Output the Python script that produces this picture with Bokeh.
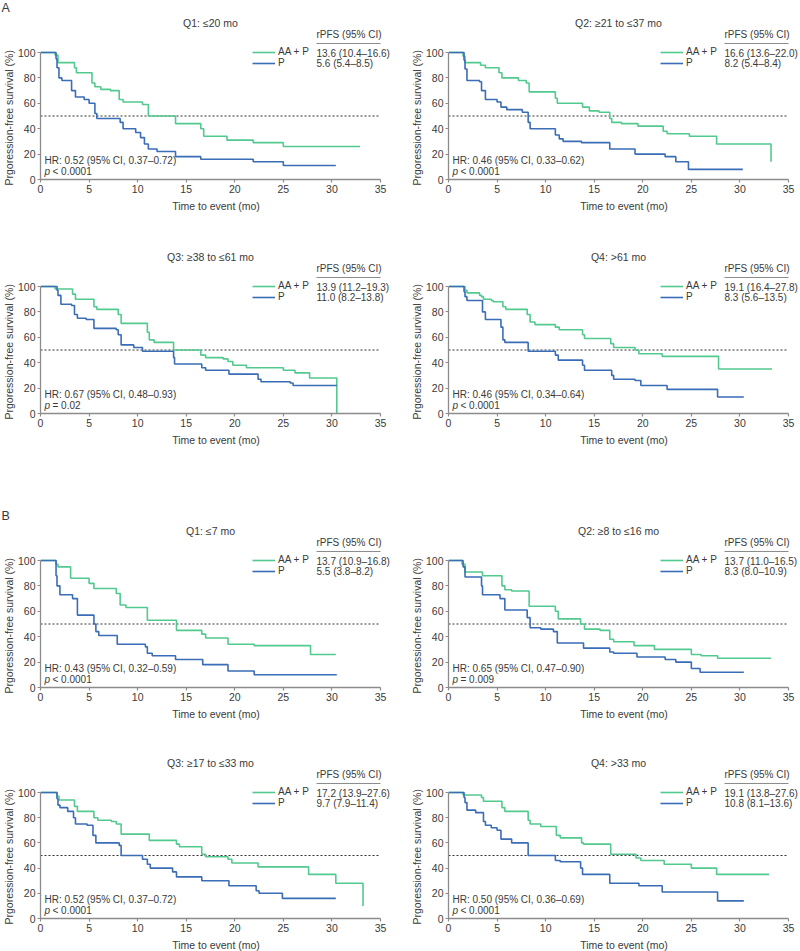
from bokeh.plotting import figure
from bokeh.models import Range1d, FixedTicker, Label, Legend, LegendItem, BoxAnnotation, Title
from bokeh.layouts import column, row
from bokeh.embed import file_html
from bokeh.resources import INLINE

FONT = "Liberation Sans"
GREEN = "#52c98e"
BLUE = "#3a6db5"
AXIS = "#8c8c8c"
TXT = "#3a3a3a"

# ---------------- data ----------------
titles = ["Q1: \u226420 mo", "Q2: \u226521 to \u226437 mo", "Q3: \u226538 to \u226461 mo", "Q4: >61 mo",
          "Q1: \u22647 mo", "Q2: \u22658 to \u226416 mo", "Q3: \u226517 to \u226433 mo", "Q4: >33 mo"]
rpfs_aap = ["13.6 (10.4\u201316.6)", "16.6 (13.6\u201322.0)", "13.9 (11.2\u201319.3)", "19.1 (16.4\u201327.8)",
            "13.7 (10.9\u201316.8)", "13.7 (11.0\u201316.5)", "17.2 (13.9\u201327.6)", "19.1 (13.8\u201327.6)"]
rpfs_p = ["5.6 (5.4\u20138.5)", "8.2 (5.4\u20138.4)", "11.0 (8.2\u201313.8)", "8.3 (5.6\u201313.5)",
          "5.5 (3.8\u20138.2)", "8.3 (8.0\u201310.9)", "9.7 (7.9\u201311.4)", "10.8 (8.1\u201313.6)"]
hr_text = ["HR: 0.52 (95% CI, 0.37\u20130.72)", "HR: 0.46 (95% CI, 0.33\u20130.62)",
           "HR: 0.67 (95% CI, 0.48\u20130.93)", "HR: 0.46 (95% CI, 0.34\u20130.64)",
           "HR: 0.43 (95% CI, 0.32\u20130.59)", "HR: 0.65 (95% CI, 0.47\u20130.90)",
           "HR: 0.52 (95% CI, 0.37\u20130.72)", "HR: 0.50 (95% CI, 0.36\u20130.69)"]
p_text = ["< 0.0001", "< 0.0001", "= 0.02", "< 0.0001", "< 0.0001", "= 0.009", "< 0.0001", "< 0.0001"]
section_letters = ["A", "B"]
x_ticks = [0, 5, 10, 15, 20, 25, 30, 35]
y_ticks = [0, 20, 40, 60, 80, 100]
median_level = 50

# A - Q1
a1_aap_t = [0, 1.5, 1.8, 3.5, 3.7, 5.3, 5.6, 6.2, 7.2, 8.1, 8.5, 10.5, 11.1, 13.9, 16.5, 16.8, 19.2, 21.9, 25.0, 32.9]
a1_aap_s = [100, 98, 92, 88, 84, 76, 73, 71, 70, 63, 61, 59, 50, 44, 40, 34, 31, 29, 26, 26]
a1_p_t = [0, 1.6, 1.7, 1.9, 2.2, 3.2, 3.6, 4.5, 5.0, 5.6, 5.8, 8.2, 8.5, 9.8, 10.3, 10.7, 11.1, 12.0, 13.9, 16.5, 21.9, 25.0, 30.4]
a1_p_s = [100, 95, 88, 80, 78, 70, 65, 63, 60, 52, 48, 45, 40, 37, 33, 28, 24, 22, 18, 16, 14, 11, 11]
# A - Q2
a2_aap_t = [0, 1.5, 1.7, 3.3, 3.8, 5.2, 5.5, 7.2, 8.0, 8.3, 11.0, 11.2, 13.8, 14.5, 15.5, 16.6, 16.8, 17.8, 19.5, 22.1, 22.5, 24.8, 27.6, 33.2, 33.2]
a2_aap_s = [100, 97, 92, 90, 88, 84, 80, 78, 76, 69, 64, 60, 57, 54, 53, 48, 45, 44, 42, 38, 36, 34, 28, 28, 14]
a2_p_t = [0, 1.6, 1.7, 1.9, 3.2, 3.4, 3.8, 5.0, 5.4, 6.0, 7.6, 8.2, 8.4, 11.0, 11.4, 11.8, 13.7, 16.6, 19.2, 22.3, 23.4, 24.7, 30.3]
a2_p_s = [100, 94, 87, 78, 77, 70, 63, 61, 57, 55, 53, 45, 40, 35, 32, 30, 29, 24, 20, 18, 14, 8, 8]
# A - Q3
a3_aap_t = [0, 1.5, 3.3, 3.6, 5.5, 5.8, 8.0, 8.3, 11.0, 11.2, 11.7, 13.7, 16.5, 17.0, 18.8, 19.3, 19.8, 21.2, 25.0, 26.2, 27.7, 30.5, 30.5]
a3_aap_s = [100, 98, 94, 90, 84, 82, 78, 71, 64, 58, 56, 50, 46, 44, 43, 41, 38, 36, 34, 32, 28, 28, 0]
a3_p_t = [0, 1.7, 1.8, 2.1, 3.2, 3.5, 3.8, 4.7, 5.5, 7.8, 8.0, 8.3, 9.6, 10.5, 13.7, 13.8, 16.6, 17.0, 19.4, 22.4, 22.7, 25.7, 26.0, 30.5]
a3_p_s = [100, 97, 93, 86, 85, 78, 75, 74, 67, 66, 62, 54, 52, 49, 44, 39, 36, 34, 31, 27, 25, 24, 22, 22]
# A - Q4
a4_aap_t = [0, 1.7, 1.9, 3.2, 3.4, 3.6, 4.4, 4.6, 5.6, 5.9, 8.1, 8.4, 8.9, 11.0, 11.4, 13.8, 14.0, 16.7, 17.0, 19.2, 19.6, 22.0, 27.8, 33.3]
a4_aap_s = [100, 97, 95, 93, 92, 90, 89, 88, 84, 82, 78, 72, 70, 68, 66, 62, 59, 55, 52, 50, 47, 45, 35, 35]
a4_p_t = [0, 1.6, 1.7, 1.9, 3.5, 3.8, 5.4, 5.6, 5.8, 8.2, 11.0, 11.3, 13.8, 14.0, 16.8, 17.0, 19.2, 19.8, 22.5, 27.7, 30.4]
a4_p_s = [100, 96, 92, 89, 80, 74, 68, 58, 56, 49, 46, 42, 38, 34, 30, 27, 26, 22, 19, 13, 13]
# B - Q1
b1_aap_t = [0, 1.6, 1.8, 3.1, 5.0, 5.5, 7.8, 8.2, 8.8, 11.0, 14.0, 16.6, 17.0, 19.3, 22.0, 27.8, 30.4]
b1_aap_s = [100, 97, 95, 86, 82, 78, 74, 65, 63, 53, 45, 42, 39, 34, 33, 26, 26]
b1_p_t = [0, 1.6, 1.7, 2.0, 3.3, 3.8, 5.5, 5.7, 6.0, 7.9, 10.8, 11.0, 11.5, 13.9, 16.7, 19.3, 22.0, 30.5]
b1_p_s = [100, 88, 80, 73, 70, 57, 50, 44, 41, 34, 32, 27, 25, 22, 18, 13, 10, 10]
# B - Q2
b2_aap_t = [0, 1.4, 1.7, 3.5, 5.5, 5.8, 6.5, 8.3, 11.0, 11.3, 13.6, 14.0, 15.6, 16.6, 17.0, 19.1, 21.2, 25.0, 26.0, 27.7, 33.2]
b2_aap_s = [100, 97, 91, 88, 80, 77, 76, 64, 60, 54, 50, 46, 45, 38, 36, 33, 30, 26, 25, 23, 23]
b2_p_t = [0, 1.5, 1.7, 3.4, 3.5, 5.3, 5.8, 8.1, 8.4, 9.5, 10.8, 11.2, 13.9, 16.6, 17.0, 19.4, 22.3, 23.4, 25.0, 25.9, 30.4]
b2_p_s = [100, 95, 87, 80, 73, 70, 61, 55, 47, 46, 44, 35, 31, 28, 27, 24, 22, 20, 15, 12, 12]
# B - Q3
b3_aap_t = [0, 1.7, 1.9, 3.5, 3.8, 5.5, 5.9, 7.3, 7.8, 8.3, 11.2, 14.0, 14.3, 16.6, 17.0, 19.3, 19.7, 22.4, 27.6, 30.4, 33.2, 33.2]
b3_aap_s = [100, 97, 94, 89, 85, 80, 78, 77, 75, 67, 62, 59, 57, 51, 49, 47, 44, 41, 35, 28, 28, 10]
b3_p_t = [0, 1.7, 1.8, 2.0, 2.8, 3.4, 3.6, 4.8, 5.4, 5.7, 8.1, 8.3, 10.5, 11.0, 11.3, 13.6, 14.0, 16.6, 19.4, 22.2, 22.5, 24.9, 30.4]
b3_p_s = [100, 95, 90, 88, 85, 80, 75, 74, 66, 60, 58, 50, 47, 43, 40, 37, 33, 30, 26, 22, 20, 16, 16]
# B - Q4
b4_aap_t = [0, 1.5, 3.4, 3.6, 5.5, 5.8, 8.2, 8.4, 9.5, 11.1, 11.5, 13.7, 13.9, 16.7, 19.3, 19.8, 22.2, 25.0, 27.6, 33.0]
b4_aap_s = [100, 98, 96, 93, 88, 85, 78, 75, 73, 66, 64, 60, 59, 51, 48, 46, 43, 40, 35, 35]
b4_p_t = [0, 1.6, 1.7, 1.9, 2.8, 3.6, 3.8, 4.4, 5.0, 5.4, 6.5, 8.2, 11.0, 11.5, 13.6, 13.8, 16.6, 19.6, 22.0, 27.7, 30.4]
b4_p_s = [100, 96, 92, 86, 84, 77, 74, 72, 70, 63, 60, 50, 46, 45, 40, 35, 28, 26, 21, 14, 14]

curves = [
    (a1_aap_t, a1_aap_s, a1_p_t, a1_p_s), (a2_aap_t, a2_aap_s, a2_p_t, a2_p_s),
    (a3_aap_t, a3_aap_s, a3_p_t, a3_p_s), (a4_aap_t, a4_aap_s, a4_p_t, a4_p_s),
    (b1_aap_t, b1_aap_s, b1_p_t, b1_p_s), (b2_aap_t, b2_aap_s, b2_p_t, b2_p_s),
    (b3_aap_t, b3_aap_s, b3_p_t, b3_p_s), (b4_aap_t, b4_aap_s, b4_p_t, b4_p_s),
]

# ---------------- layout (pixels) ----------------
PW = 340          # width of the 0..35 plotting area
XR = 11           # extra frame width right of 35 (legend text)
EX = 36           # extra frame height above 100 (title / legend header)
# per row: (top border, plot height for 0..100, bottom border)
rows_geo = [(15, 127, 71), (0, 127, 95), (15, 127, 69), (0, 126, 35)]
cols_geo = [(40, 9), (48, 1)]  # (left border, right border)


def lab(p, x, y, text, size="10px", align="left", style="normal", color=TXT):
    p.add_layout(Label(x=x, y=y, x_units="screen", y_units="screen", text=text,
                       text_font=FONT, text_font_size=size, text_color=color,
                       text_align=align, text_baseline="middle", text_font_style=style))


def make_panel(i):
    r, c = divmod(i, 2)
    top, PH, bottom = rows_geo[r]
    left, right = cols_geo[c]
    FH = PH + EX
    x_end = x_ticks[-1] * (PW + XR) / PW
    y_end = y_ticks[-1] * FH / PH
    p = figure(frame_width=PW + XR, frame_height=FH, min_border_left=left, min_border_right=right,
               min_border_top=top, min_border_bottom=bottom,
               x_range=Range1d(x_ticks[0], x_end), y_range=Range1d(y_ticks[0], y_end),
               output_backend="svg", toolbar_location=None, tools="")
    p.outline_line_color = None
    p.xgrid.visible = False
    p.ygrid.visible = False
    for ax in (p.xaxis, p.yaxis):
        ax.axis_line_color = AXIS
        ax.axis_line_width = 1.3
        ax.major_tick_line_color = AXIS
        ax.major_tick_line_width = 1.2
        ax.major_tick_in = 0
        ax.major_tick_out = 3
        ax.minor_tick_line_color = None
        ax.major_label_text_font = FONT
        ax.major_label_text_font_size = "10.5px"
        ax.major_label_text_color = TXT
        ax.major_label_standoff = 2
    p.xaxis.ticker = FixedTicker(ticks=x_ticks)
    p.yaxis.ticker = FixedTicker(ticks=y_ticks)
    p.xaxis.bounds = (x_ticks[0], x_ticks[-1])
    p.yaxis.bounds = (y_ticks[0], y_ticks[-1])
    p.xaxis.axis_label = "Time to event (mo)"
    p.xaxis.axis_label_text_font = FONT
    p.xaxis.axis_label_text_font_style = "normal"
    p.xaxis.axis_label_text_color = TXT
    p.xaxis.axis_label_text_font_size = "10.5px"
    p.xaxis.axis_label_standoff = 4

    # y axis title, centred on the 0..100 span
    p.add_layout(Title(text="Prgoression-free survival (%)", align="left", offset=-6, standoff=0,
                       text_font=FONT, text_font_size="10.5px", text_font_style="normal",
                       text_color=TXT), "left")

    # section letter (A / B)
    if c == 0 and r in (0, 2):
        p.title.text = section_letters[r // 2]
        p.title.align = "left"
        p.title.vertical_align = "top"
        p.title.offset = -39
        p.title.standoff = 0
        p.title.text_font = FONT
        p.title.text_font_size = "12.5px"
        p.title.text_font_style = "normal"
        p.title.text_color = TXT

    # median reference line
    p.segment(x0=x_ticks[0], x1=x_ticks[-1], y0=median_level, y1=median_level,
              line_color="#333333", line_dash="2 2", line_width=1)

    gt, gs, bt, bs = curves[i]
    rg = p.step(x=gt, y=gs, mode="after", line_color=GREEN, line_width=1.6)
    rb = p.step(x=bt, y=bs, mode="after", line_color=BLUE, line_width=1.6)

    leg = Legend(items=[LegendItem(label="AA + P", renderers=[rg]),
                        LegendItem(label="P", renderers=[rb])],
                 location=(PW - 128, PH - 16), padding=0, margin=0, spacing=0,
                 glyph_width=23, glyph_height=10, label_height=10, label_standoff=3,
                 label_text_font=FONT, label_text_font_size="10px", label_text_color=TXT,
                 label_text_line_height=1.0,
                 border_line_color=None, background_fill_alpha=0)
    p.add_layout(leg)

    lab(p, PW / 2, PH + 30, titles[i], size="10.5px", align="center")
    lab(p, PW - 64, PH + 18, "rPFS (95% CI)")
    p.add_layout(BoxAnnotation(left=PW - 64, right=PW, bottom=PH + 8.5, top=PH + 9.5,
                               left_units="screen", right_units="screen",
                               bottom_units="screen", top_units="screen",
                               fill_color="#8c8c8c", fill_alpha=1, line_color=None))
    lab(p, PW - 64, PH - 1, rpfs_aap[i])
    lab(p, PW - 64, PH - 11, rpfs_p[i])
    lab(p, 4, 19, hr_text[i])
    lab(p, 4, 8, "p", style="italic")
    lab(p, 12, 8, p_text[i])
    return p


panels = [make_panel(i) for i in range(8)]
layout = column(row(panels[0], panels[1]), row(panels[2], panels[3]),
                row(panels[4], panels[5]), row(panels[6], panels[7]))

open("out.html", "w").write(file_html(layout, INLINE))
